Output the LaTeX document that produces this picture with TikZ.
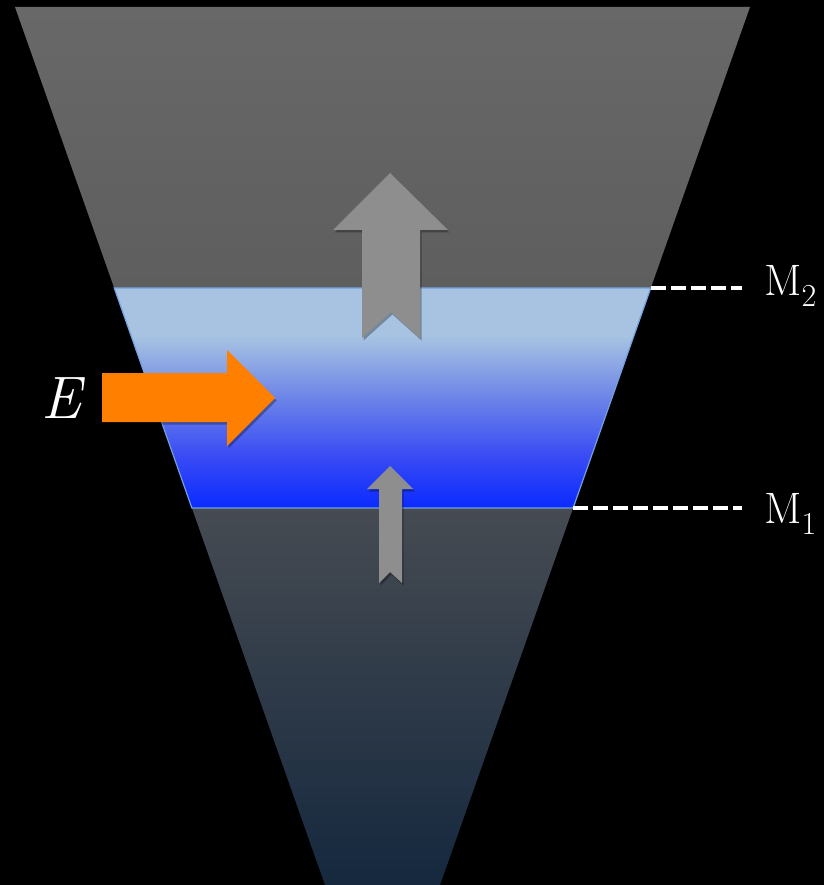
\documentclass[tikz,border=0pt]{standalone}
\usetikzlibrary{calc, shadows}
\definecolor{topgray}{HTML}{686868}
\definecolor{topgraylow}{HTML}{5E5E5E}
\definecolor{lowtop}{HTML}{464B52}
\definecolor{lowbot}{HTML}{15283E}
\definecolor{bandtop}{HTML}{A7C3E1}
\definecolor{bandmid}{HTML}{6C84E8}
\definecolor{bandmidlow}{HTML}{3A4CF4}
\definecolor{bandlow}{HTML}{0A2AFF}
\definecolor{bandedge}{HTML}{6FA0E0}
\definecolor{arrowgray}{HTML}{8E8E8E}
\definecolor{energy}{HTML}{FF7F00}
\pgfdeclareverticalshading{bandshade}{100bp}{color(0bp)=(bandlow); color(25bp)=(bandlow); color(37bp)=(bandmidlow); color(50bp)=(bandmid); color(64bp)=(bandtop); color(100bp)=(bandtop)}
\newcommand{\levelsub}[1]{\raisebox{-11pt}{\fontsize{32}{34}\selectfont #1}}

\begin{document}
\begin{tikzpicture}[x=1pt, y=-1pt,
    levelline/.style={white, line width=4pt, dash pattern=on 15pt off 5pt},
    levellabel/.style={white, anchor=base west, inner sep=0pt, font=\fontsize{44}{50}\selectfont},
    softshadow/.style={drop shadow={black, opacity=0.3, shadow xshift=1.5pt, shadow yshift=-2.5pt}},
    flowarrow/.style={fill=arrowgray, softshadow}]
  \fill[black] (0,0) rectangle (824,885);
  \useasboundingbox (0,0) rectangle (824,885);

  % funnel corners and level points
  \coordinate (ltop) at (15,7);
  \coordinate (rtop) at (750,7);
  \coordinate (lbot) at (325,885);
  \coordinate (rbot) at (440,885);
  \coordinate (m2a) at ($(ltop)!0.32!(lbot)$);
  \coordinate (m2b) at ($(rtop)!0.32!(rbot)$);
  \coordinate (m1a) at ($(ltop)!0.5706!(lbot)$);
  \coordinate (m1b) at ($(rtop)!0.5706!(rbot)$);

  \shade[top color=topgray, bottom color=topgraylow] (ltop) -- (rtop) -- (m2b) -- (m2a) -- cycle;
  \shade[top color=lowtop, bottom color=lowbot] (m1a) -- (m1b) -- (rbot) -- (lbot) -- cycle;
  \shade[shading=bandshade, draw=bandedge, line width=1.2pt] (m2a) -- (m2b) -- (m1b) -- (m1a) -- cycle;

  % arrows
  \fill[flowarrow] (390,173) -- (448,230) -- (420,230) -- (420,338) -- (391,312)
    -- (362,338) -- (362,230) -- (333,230) -- cycle;
  \fill[flowarrow] (390,466) -- (413,489) -- (402,489) -- (402,583) -- (390,572)
    -- (379,583) -- (379,489) -- (367,489) -- cycle;
  \fill[energy, softshadow]
    (102,373) -- (227,373) -- (227,350) -- (275,398) -- (227,446) -- (227,422)
    -- (102,422) -- cycle;

  % labels
  \node[white, anchor=base, inner sep=0pt, font=\fontsize{60}{66}\selectfont\itshape] (energylabel) at (61,418) {E};
  \node[levellabel] (mtwo) at (764,295) {M\levelsub{2}};
  \node[levellabel] (mone) at (764,523) {M\levelsub{1}};

  \draw[levelline, shorten >=22pt] (m2b) -- (m2b -| mtwo.west);
  \draw[levelline, shorten >=22pt] (m1b) -- (m1b -| mone.west);
\end{tikzpicture}
\end{document}
